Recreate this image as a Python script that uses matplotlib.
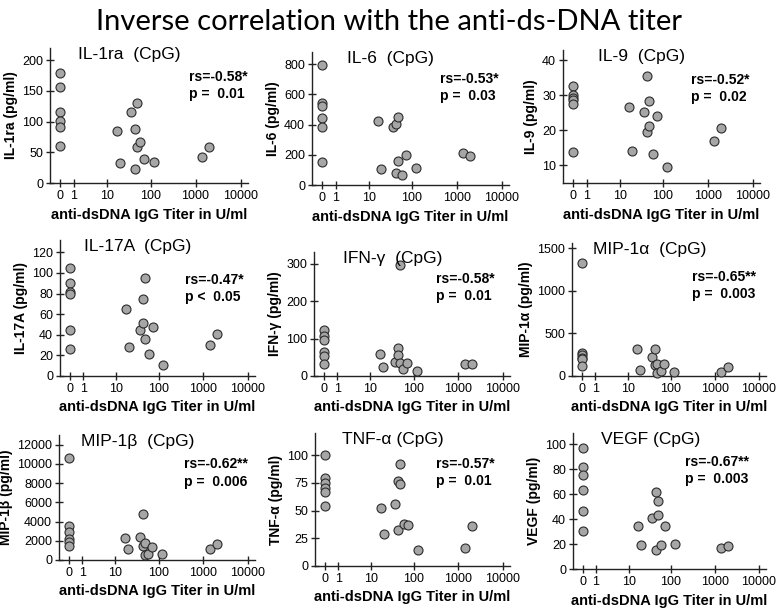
import numpy as np
import matplotlib.pyplot as plt

plt.rcParams['font.family'] = ['Liberation Sans', 'DejaVu Sans']

# anti-dsDNA IgG titer (U/ml), same patients in every panel
TITER = [0, 0, 0, 0, 0, 0, 17, 20, 37, 44, 44, 49, 49, 59, 72, 122, 1400, 2000]

IL1RA = [180, 157, 115, 101, 91, 60, 85, 32, 116, 88, 23, 131, 59, 66, 39, 35, 42, 59]
IL6 = [793, 541, 525, 440, 382, 150, 424, 103, 385, 402, 79, 453, 160, 68, 200, 110, 211, 189]
IL9 = [32.8, 30.0, 29.3, 28.6, 27.6, 13.8, 26.7, 14.1, 25.3, 35.5, 19.7, 28.3, 21.2, 13.2, 24.1, 9.6, 16.9, 20.8]
IL17A = [105, 90, 82, 80, 45, 26, 65, 28, 45, 75, 51, 95, 36, 21, 48, 11, 30, 41]
IFNG = [124, 107, 96, 64, 54, 32, 60, 23, 38, 76, 55, 295, 34, 19, 35, 13, 31, 31]
MIP1A = [1320, 275, 250, 215, 200, 120, 314, 67, 224, 322, 133, 141, 30, 55, 141, 43, 47, 106]
MIP1B = [10600, 3550, 2960, 2160, 1910, 1500, 2260, 1150, 2370, 4800, 1460, 1740, 520, 590, 1320, 620, 1180, 1670]
TNFA = [99.7, 79, 74.8, 70.3, 66.4, 54.2, 52.7, 28.8, 55.5, 77, 32.4, 92, 73.6, 37.6, 36.7, 14, 16, 36]
VEGF = [97, 81.6, 75.7, 63, 46.3, 30.2, 34.8, 19.5, 40.6, 62, 15.5, 54.5, 43.0, 19.3, 34.8, 19.8, 17.1, 18.4]

TITLES = ["IL-1ra  (CpG)", "IL-6  (CpG)", "IL-9  (CpG)",
          "IL-17A  (CpG)", "IFN-\u03b3  (CpG)", "MIP-1\u03b1  (CpG)",
          "MIP-1\u03b2  (CpG)", "TNF-\u03b1 (CpG)", "VEGF (CpG)"]
YLABELS = ["IL-1ra (pg/ml)", "IL-6 (pg/ml)", "IL-9 (pg/ml)",
           "IL-17A (pg/ml)", "IFN-\u03b3 (pg/ml)", "MIP-1\u03b1 (pg/ml)",
           "MIP-1\u03b2 (pg/ml)", "TNF-\u03b1 (pg/ml)", "VEGF (pg/ml)"]
RS = ["rs=-0.58*", "rs=-0.53*", "rs=-0.52*", "rs=-0.47*", "rs=-0.58*",
      "rs=-0.65**", "rs=-0.62**", "rs=-0.57*", "rs=-0.67**"]
PVAL = ["p =  0.01", "p =  0.03", "p =  0.02", "p <  0.05", "p =  0.01",
        "p =  0.003", "p =  0.006", "p =  0.01", "p =  0.003"]
YTICKS = [[0, 50, 100, 150, 200], [0, 200, 400, 600, 800], [10, 20, 30, 40],
          [0, 20, 40, 60, 80, 100, 120], [0, 100, 200, 300], [0, 500, 1000, 1500],
          [0, 2000, 4000, 6000, 8000, 10000, 12000], [0, 25, 50, 75, 100],
          [0, 20, 40, 60, 80, 100]]
YLIMS = [(0, 220), (0, 880), (5, 43), (0, 132), (0, 331), (0, 1560),
         (0, 13000), (0, 120), (0, 109)]
XTICKS = [0, 1, 10, 100, 1000, 10000]

VALUES = [IL1RA, IL6, IL9, IL17A, IFNG, MIP1A, MIP1B, TNFA, VEGF]

# axes boxes in pixels: left, top, right, bottom
BOXES = [(50, 48, 248, 183), (312, 52, 509, 185), (563, 50, 760, 183),
         (60, 240, 255, 376), (314, 252, 510, 376), (572, 243, 766, 376),
         (59, 435, 255, 560), (315, 433, 510, 566), (573, 433, 766, 569)]
STATPOS = [(0.70, 0.84), (0.65, 0.85), (0.65, 0.83), (0.64, 0.76), (0.62, 0.84),
           (0.62, 0.80), (0.64, 0.82), (0.62, 0.82), (0.58, 0.84)]

W, H = 778, 609
fig = plt.figure(figsize=(W / 100, H / 100), dpi=100)
fig.text(0.5, 1 - 22 / H, "Inverse correlation with the anti-ds-DNA titer",
         ha='center', va='center', fontsize=21, family=['Lato', 'DejaVu Sans'])


def fwd(x):
    return np.log10(np.clip(np.asarray(x, dtype=float) + 1, 1e-6, None))


def inv(y):
    return 10 ** np.asarray(y, dtype=float) - 1


for i in range(9):
    l, t, r, b = BOXES[i]
    ax = fig.add_axes([l / W, 1 - b / H, (r - l) / W, (b - t) / H])
    ax.set_xscale('function', functions=(fwd, inv))
    ax.scatter(TITER, VALUES[i], s=42, facecolor='#a6a6a6', edgecolor='#2b2b2b',
               linewidth=0.8, zorder=3, clip_on=False)
    ax.set_xlim(-0.4, 14500)
    ax.set_ylim(*YLIMS[i])
    ax.set_xticks(XTICKS)
    ax.set_xticklabels([str(v) for v in XTICKS])
    ax.xaxis.set_minor_locator(plt.NullLocator())
    ax.set_yticks(YTICKS[i])
    for s in ('top', 'right'):
        ax.spines[s].set_visible(False)
    for s in ('left', 'bottom'):
        ax.spines[s].set_linewidth(1.0)
        ax.spines[s].set_color('#222222')
    ax.tick_params(direction='inout', length=6, width=1.0, labelsize=9,
                   colors='#222222', labelcolor='black', pad=2)
    ax.set_xlabel("anti-dsDNA IgG Titer in U/ml", fontsize=10.5, fontweight='bold', labelpad=4)
    ax.set_ylabel(YLABELS[i], fontsize=10, fontweight='bold', labelpad=3)
    ax.text(0.40, 0.95, TITLES[i], transform=ax.transAxes, ha='center', va='center',
            fontsize=12.5)
    sx, sy = STATPOS[i]
    ax.text(sx, sy, RS[i] + "\n" + PVAL[i], transform=ax.transAxes, ha='left', va='top',
            fontsize=10, fontweight='bold', linespacing=1.3)

fig.savefig("out.png", dpi=100)
